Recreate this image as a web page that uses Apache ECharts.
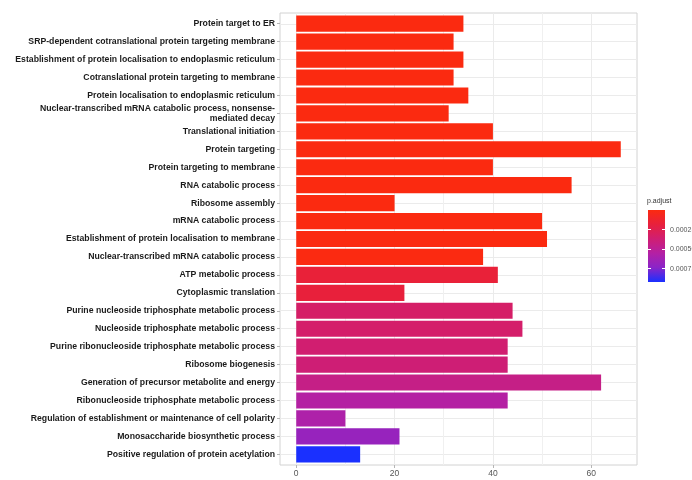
<!DOCTYPE html>
<html>
<head>
<meta charset="utf-8">
<script src="https://cdn.jsdelivr.net/npm/echarts@6/dist/echarts.min.js"></script>
<style>
  html, body { margin: 0; padding: 0; background: #ffffff; }
  #chart { width: 692px; height: 480px; }
</style>
</head>
<body>
<div id="chart"></div>
<script>
// GO enrichment terms, top to bottom
const categories = [
  'Protein target to ER',
  'SRP-dependent cotranslational protein targeting membrane',
  'Establishment of protein localisation to endoplasmic reticulum',
  'Cotranslational protein targeting to membrane',
  'Protein localisation to endoplasmic reticulum',
  'Nuclear-transcribed mRNA catabolic process, nonsense-\nmediated decay',
  'Translational initiation',
  'Protein targeting',
  'Protein targeting to membrane',
  'RNA catabolic process',
  'Ribosome assembly',
  'mRNA catabolic process',
  'Establishment of protein localisation to membrane',
  'Nuclear-transcribed mRNA catabolic process',
  'ATP metabolic process',
  'Cytoplasmic translation',
  'Purine nucleoside triphosphate metabolic process',
  'Nucleoside triphosphate metabolic process',
  'Purine ribonucleoside triphosphate metabolic process',
  'Ribosome biogenesis',
  'Generation of precursor metabolite and energy',
  'Ribonucleoside triphosphate metabolic process',
  'Regulation of establishment or maintenance of cell polarity',
  'Monosaccharide biosynthetic process',
  'Positive regulation of protein acetylation'
];

// gene counts per term
const counts = [34, 32, 34, 32, 35, 31, 40, 66, 40, 56, 20, 50, 51, 38, 41, 22, 44, 46, 43, 43, 62, 43, 10, 21, 13];

// adjusted p-values per term
const pAdjust = [
  1.2e-9, 2.0e-9, 2.4e-9, 3.1e-9, 4.0e-9, 6.5e-9, 1.1e-8, 1.5e-8, 2.0e-8, 3.3e-8,
  5.2e-8, 8.0e-8, 1.1e-7, 2.6e-6, 0.00017, 0.00018, 0.00033, 0.00034, 0.00036, 0.00038,
  0.00044, 0.00055, 0.00058, 0.00068, 0.00092
];

// axis ticks
const countTicks = [0, 20, 40, 60];
const countMinorTicks = [10, 30, 50];
const pTicks = [0.00025, 0.00050, 0.00075];

// colour scale, low p.adjust to high
const scaleColors = ['#fb2a10', '#e8203c', '#d01e72', '#b420a4', '#8a24c8', '#1a30ff'];

const xMin = -3.3, xMax = 69.3;
const pMin = 0, pMax = 0.00092;

const panel = { left: 280, top: 13, width: 357, height: 452 };
// bars sit inside the panel with 0.6-category padding at both ends
const catStep = panel.height / (categories.length + 1.2);
const barsTop = panel.top + 0.1 * catStep;
const barsHeight = panel.height - 0.2 * catStep;
const catCentres = categories.map((c, i) => i);

const barData = categories.map((c, i) => [counts[i], c, pAdjust[i]]);

const gradient = new echarts.graphic.LinearGradient(0, 0, 0, 1,
  scaleColors.map((c, i) => ({ offset: i / (scaleColors.length - 1), color: c })));

const chart = echarts.init(document.getElementById('chart'), null, { renderer: 'canvas' });

chart.setOption({
  animation: false,
  backgroundColor: '#ffffff',
  textStyle: { fontFamily: 'Liberation Sans, Arial, sans-serif' },
  grid: [
    { left: panel.left, top: panel.top, width: panel.width, height: panel.height,
      show: true, borderColor: '#d2d2d2', borderWidth: 1, backgroundColor: '#ffffff',
      outerBoundsMode: 'none', z: 0 },
    { left: panel.left, top: barsTop, width: panel.width, height: barsHeight,
      outerBoundsMode: 'none', z: 2 },
    { left: 648, top: 210, width: 17, height: 72, outerBoundsMode: 'none', z: 6 }
  ],
  xAxis: [
    { // major gridlines and tick labels
      type: 'value', gridIndex: 0, min: xMin, max: xMax, position: 'bottom',
      axisLine: { show: false, onZero: false },
      axisTick: { show: true, length: 3, lineStyle: { color: '#b5b5b5' }, customValues: countTicks },
      axisLabel: { customValues: countTicks, fontSize: 8.5, color: '#555555', margin: 4 },
      splitLine: { show: true, lineStyle: { color: '#ebebeb', width: 1 } }
    },
    { // minor gridlines
      type: 'value', gridIndex: 0, min: xMin, max: xMax, position: 'bottom',
      axisLine: { show: false, onZero: false },
      axisTick: { show: false, customValues: countMinorTicks },
      axisLabel: { show: false },
      splitLine: { show: true, lineStyle: { color: '#f0f0f0', width: 1 } }
    },
    {
      type: 'value', gridIndex: 1, min: xMin, max: xMax, show: false,
      axisLine: { onZero: false }
    },
    {
      type: 'category', gridIndex: 2, data: ['p.adjust'], show: false,
      axisLine: { onZero: false }
    }
  ],
  yAxis: [
    { // horizontal gridlines through each category centre
      type: 'value', gridIndex: 0, min: -0.6, max: categories.length - 0.4, inverse: true,
      axisLine: { show: false, onZero: false },
      axisTick: { show: false, customValues: catCentres },
      axisLabel: { show: false },
      splitLine: { show: true, lineStyle: { color: '#ebebeb', width: 1 } }
    },
    {
      type: 'category', gridIndex: 1, data: categories, inverse: true,
      axisLine: { show: false, onZero: false },
      axisTick: { show: true, alignWithLabel: true, length: 3, lineStyle: { color: '#b5b5b5' } },
      axisLabel: {
        fontSize: 8.7, fontWeight: 'bold', color: '#1a1a1a', margin: 5,
        align: 'right', lineHeight: 10, interval: 0
      },
      splitLine: { show: false }
    },
    { // colour bar labels
      type: 'value', gridIndex: 2, min: pMin, max: pMax, inverse: true, position: 'right', z: 10,
      axisLine: { show: false, onZero: false },
      axisTick: { show: true, inside: true, length: 3, customValues: pTicks, lineStyle: { color: '#ffffff', width: 1 } },
      axisLabel: { customValues: pTicks, fontSize: 7, color: '#555555', margin: 5,
        formatter: v => v.toFixed(5) },
      splitLine: { show: false }
    },
    { // left-side ticks on the colour bar
      type: 'value', gridIndex: 2, min: pMin, max: pMax, inverse: true, position: 'left', z: 10,
      axisLine: { show: false, onZero: false },
      axisTick: { show: true, inside: true, length: 3, customValues: pTicks, lineStyle: { color: '#ffffff', width: 1 } },
      axisLabel: { show: false },
      splitLine: { show: false }
    }
  ],
  visualMap: {
    type: 'continuous',
    show: false,
    seriesIndex: 0,
    dimension: 2,
    min: pMin, max: pMax,
    inRange: { color: scaleColors }
  },
  graphic: [
    { type: 'text', left: 647, top: 198, z: 10,
      style: { text: 'p.adjust', fontSize: 7, fill: '#333333', fontFamily: 'Liberation Sans, Arial, sans-serif' } }
  ],
  series: [
    {
      type: 'bar',
      xAxisIndex: 2, yAxisIndex: 1,
      data: barData,
      encode: { x: 0, y: 1 },
      barWidth: '90%',
      z: 3
    },
    { // colour bar spanning the full p.adjust range
      type: 'bar',
      xAxisIndex: 3, yAxisIndex: 2,
      data: [pMax],
      barWidth: '100%',
      itemStyle: { color: gradient },
      silent: true,
      z: 5
    }
  ]
});
</script>
</body>
</html>
